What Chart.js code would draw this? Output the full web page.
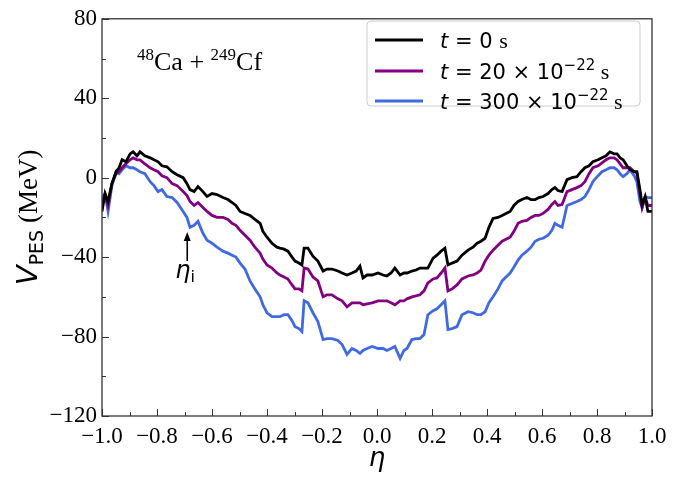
<!DOCTYPE html>
<html>
<head>
<meta charset="utf-8">
<script src="https://cdn.jsdelivr.net/npm/chart.js@4.4.1/dist/chart.umd.min.js"></script>
<style>
  html, body { margin: 0; padding: 0; background: #fff; }
  #wrap { width: 689px; height: 478px; }
</style>
</head>
<body>
<div id="wrap"><canvas id="pes" width="689" height="478"></canvas></div>
<script>
// eta grid and V_PES (MeV) for the three times
var etaValues = [
  -1.000, -0.989, -0.978, -0.964, -0.949, -0.938, -0.927, -0.913, -0.898, -0.887,
  -0.873, -0.862, -0.844, -0.825, -0.811, -0.796, -0.782, -0.764, -0.745, -0.727,
  -0.705, -0.691, -0.680, -0.665, -0.651, -0.633, -0.618, -0.600, -0.582, -0.560,
  -0.542, -0.527, -0.513, -0.498, -0.480, -0.462, -0.444, -0.425, -0.415, -0.400,
  -0.382, -0.364, -0.353, -0.338, -0.324, -0.309, -0.298, -0.284, -0.273, -0.265,
  -0.251, -0.233, -0.215, -0.196, -0.182, -0.164, -0.142, -0.127, -0.109, -0.091,
  -0.076, -0.062, -0.051, -0.036, -0.018, 0.004, 0.022, 0.036, 0.051, 0.065,
  0.084, 0.098, 0.109, 0.127, 0.142, 0.156, 0.171, 0.185, 0.204, 0.218,
  0.233, 0.247, 0.258, 0.273, 0.291, 0.309, 0.331, 0.349, 0.364, 0.378,
  0.393, 0.407, 0.422, 0.440, 0.455, 0.469, 0.484, 0.498, 0.513, 0.527,
  0.545, 0.560, 0.575, 0.589, 0.604, 0.622, 0.636, 0.647, 0.658, 0.673,
  0.691, 0.709, 0.727, 0.742, 0.756, 0.771, 0.785, 0.804, 0.818, 0.833,
  0.847, 0.862, 0.873, 0.884, 0.895, 0.909, 0.920, 0.935, 0.945, 0.956,
  0.964, 0.975, 0.985, 1.000
];

var vT0 = [
  -17, -8, -12, -3, 3, 5, 9, 8, 12, 13,
  11, 13, 11, 10, 9, 8, 6, 5.5, 3, 1.5,
  0, -3, -6, -7, -4.5, -7, -9.5, -8, -8.5, -10,
  -11, -12.5, -14, -17, -18, -19, -21, -23, -27, -30,
  -33, -35, -35.5, -36, -37, -40, -42, -43, -44, -35.5,
  -35.5, -39.5, -42, -47, -46, -46, -47, -48, -49, -48,
  -47, -44.5, -50.5, -49, -49, -48, -49, -49.5, -48, -45.5,
  -49, -48, -48, -47, -46.5, -45.5, -45.5, -45.5, -40.5, -39,
  -37, -35.5, -44, -43, -42, -39, -36.5, -35, -33, -32,
  -30.5, -25, -20.5, -20, -19, -18, -17, -14, -12, -11,
  -10, -11, -11, -10, -9.5, -8, -6, -5, -6.5, -7,
  -1, 0, 0.5, 3, 5, 6, 8, 9, 10, 11,
  13, 12, 12, 10, 9, 6, 4, 3, 3, -6,
  -13.5, -9.5, -17, -17
];

var vT20 = [
  -12, -9, -14, -3, 2, 3, 5, 7, 9, 10,
  9, 9, 7, 5, 4, 3, 1, 0, -3, -4,
  -7, -9, -12, -14, -12.5, -15, -17, -19, -20, -20,
  -21, -23, -24, -26.5, -29, -31.5, -35, -38, -41, -44,
  -45.5, -48, -49, -50, -51, -54, -56, -56, -57, -45.5,
  -46, -50, -52, -60, -59, -59, -61, -62, -65, -63,
  -63, -63, -64, -63.5, -63, -62, -62, -62, -63, -64,
  -62, -62, -61, -60, -59.5, -59, -57, -53, -51, -50.5,
  -48, -45.5, -57, -56, -54, -51, -49.5, -49, -48, -46.5,
  -42, -39, -36.5, -34, -32, -31, -30, -27, -23, -22,
  -21.5, -20, -19, -19, -18, -16, -13.5, -12, -14, -13.5,
  -7, -6, -5, -4, -2, 2, 5, 6, 7.5, 9,
  10, 10, 9, 7, 5, 5, 5, 3, 2.5, -8,
  -15, -10, -14, -14
];

var vT300 = [
  -10, -8, -17, -4, 3, 2, 4, 6, 5, 5,
  4, 3, 2, -2, -4, -7, -6, -9.5, -10, -12.5,
  -17, -20, -25, -24, -22, -28, -31.5, -33, -35, -37,
  -38, -39, -40, -43, -46, -52, -56, -60, -64, -68,
  -70, -70, -70, -69, -69, -72, -75, -76, -77.5, -62,
  -63, -68, -72.5, -81.5, -81, -81, -82, -84, -89, -86,
  -87, -88.5, -87, -86, -85, -86, -86, -87, -86, -85,
  -91, -87, -86, -81.5, -81, -81, -79, -69, -67, -66,
  -64, -62, -76.5, -76, -75, -69, -67.5, -68, -69, -69,
  -67.5, -63, -60, -56, -52, -50, -48, -45, -41.5, -39,
  -37, -35, -32, -31, -30.5, -29, -26.5, -23, -24, -25,
  -14, -13, -12, -11, -9.5, -6, -2, 1, 3, 4,
  5, 5, 4, 2, 0.5, 2, 4, 1, -2, -12,
  -15, -9.5, -10, -10
];

var seriesLabels = ["t = 0 s", "t = 20 × 10⁻²² s", "t = 300 × 10⁻²² s"];
var seriesColors = ["#000000", "#800080", "#4169e1"];

var SERIF = '"Liberation Serif", "Times New Roman", serif';
var SANS = '"DejaVu Sans", sans-serif';

function toPoints(ys) {
  return ys.map(function (y, i) { return { x: etaValues[i], y: y }; });
}

function fmtTick(v, digits) {
  if (Math.abs(v) < 1e-9) v = 0;
  var s = digits ? v.toFixed(digits) : String(Math.round(v));
  return s.replace("-", "\u2212");
}

function runsWidth(ctx, runs) {
  var w = 0;
  runs.forEach(function (r) {
    ctx.font = r[1];
    w += ctx.measureText(r[0]).width;
  });
  return w;
}

// draw a run of text pieces: [text, font, raise]
function drawRuns(ctx, x, y, runs) {
  ctx.textBaseline = "alphabetic";
  ctx.textAlign = "left";
  runs.forEach(function (r) {
    ctx.font = r[1];
    ctx.fillText(r[0], x, y - (r[2] || 0));
    x += ctx.measureText(r[0]).width;
  });
  return x;
}

var decorPlugin = {
  id: "decor",
  afterDraw: function (chart) {
    var ctx = chart.ctx;
    var a = chart.chartArea;
    var xs = chart.scales.x;
    var ys = chart.scales.y;
    ctx.save();

    // frame
    ctx.strokeStyle = "#333333";
    ctx.lineWidth = 1.3;
    ctx.strokeRect(a.left, a.top, a.right - a.left, a.bottom - a.top);

    // inward ticks, left and bottom
    ctx.lineWidth = 1;
    ctx.beginPath();
    for (var i = 0; i <= 20; i++) {
      var px = Math.round(xs.getPixelForValue(-1 + i * 0.1)) + 0.5;
      var len = i % 2 === 0 ? 7 : 4;
      ctx.moveTo(px, a.bottom);
      ctx.lineTo(px, a.bottom - len);
    }
    for (var j = 0; j <= 10; j++) {
      var py = Math.round(ys.getPixelForValue(-120 + j * 20)) + 0.5;
      var ln = j % 2 === 0 ? 7 : 4;
      ctx.moveTo(a.left, py);
      ctx.lineTo(a.left + ln, py);
    }
    ctx.stroke();

    ctx.fillStyle = "#000";

    // x title
    ctx.font = "italic 26px " + SANS;
    ctx.textAlign = "center";
    ctx.textBaseline = "alphabetic";
    ctx.fillText("\u03b7", (a.left + a.right) / 2, 466);

    // y title, centred on the plot area
    var yRuns = [
      ["V", "italic 29px " + SANS, 0],
      ["PES", "19px " + SANS, -6],
      [" (MeV)", "27px " + SERIF, 0]
    ];
    var yw = runsWidth(ctx, yRuns);
    ctx.save();
    ctx.translate(37, (a.top + a.bottom) / 2 + yw / 2);
    ctx.rotate(-Math.PI / 2);
    drawRuns(ctx, 0, 0, yRuns);
    ctx.restore();

    // reaction label
    drawRuns(ctx, 137, 70, [
      ["48", "17px " + SERIF, 10],
      ["Ca", "26px " + SERIF, 0],
      [" + ", "26px " + SERIF, 0],
      ["249", "17px " + SERIF, 10],
      ["Cf", "26px " + SERIF, 0]
    ]);

    // eta_i marker
    var ax = xs.getPixelForValue(-0.69);
    ctx.strokeStyle = "#000";
    ctx.lineWidth = 1.6;
    ctx.beginPath();
    ctx.moveTo(ax, 261);
    ctx.lineTo(ax, 238);
    ctx.stroke();
    ctx.beginPath();
    ctx.moveTo(ax, 232);
    ctx.lineTo(ax - 3.5, 241);
    ctx.lineTo(ax + 3.5, 241);
    ctx.closePath();
    ctx.fill();
    drawRuns(ctx, ax - 12, 278, [
      ["\u03b7", "italic 24px " + SANS, 0],
      ["i", "16px " + SANS, -4]
    ]);

    // legend
    var bx = 367, by = 21, bw = 273, bh = 85;
    ctx.beginPath();
    ctx.roundRect(bx, by, bw, bh, 4);
    ctx.fillStyle = "rgba(255,255,255,0.85)";
    ctx.fill();
    ctx.strokeStyle = "#cccccc";
    ctx.lineWidth = 1;
    ctx.stroke();

    var rows = [40, 71, 101];
    var texts = [
      [["t", "italic 21px " + SANS], [" = 0 ", "21px " + SANS], ["s", "22px " + SERIF]],
      [["t", "italic 21px " + SANS], [" = 20 \u00d7 10", "21px " + SANS], ["\u221222", "15px " + SANS, 9], [" s", "22px " + SERIF]],
      [["t", "italic 21px " + SANS], [" = 300 \u00d7 10", "21px " + SANS], ["\u221222", "15px " + SANS, 9], [" s", "22px " + SERIF]]
    ];
    rows.forEach(function (ry, k) {
      ctx.strokeStyle = seriesColors[k];
      ctx.lineWidth = 2.8;
      ctx.beginPath();
      ctx.moveTo(375, ry);
      ctx.lineTo(423, ry);
      ctx.stroke();
      ctx.fillStyle = "#000";
      drawRuns(ctx, 440, ry + 8, texts[k]);
    });

    ctx.restore();
  }
};

var datasets = [vT0, vT20, vT300].map(function (ys, k) {
  return {
    label: seriesLabels[k],
    data: toPoints(ys),
    borderColor: seriesColors[k],
    backgroundColor: seriesColors[k],
    borderWidth: 2.8,
    pointRadius: 0,
    tension: 0,
    fill: false
  };
});

new Chart(document.getElementById("pes").getContext("2d"), {
  type: "line",
  data: { datasets: datasets },
  plugins: [decorPlugin],
  options: {
    responsive: false,
    animation: false,
    devicePixelRatio: 1,
    layout: { padding: { left: 0, top: 11, right: 37, bottom: 0 } },
    plugins: {
      legend: { display: false },
      tooltip: { enabled: false }
    },
    scales: {
      x: {
        type: "linear",
        min: -1,
        max: 1,
        grid: { display: false, drawTicks: false },
        border: { display: false },
        ticks: {
          stepSize: 0.2,
          padding: 7,
          color: "#000",
          maxRotation: 0,
          autoSkip: false,
          font: { family: SERIF, size: 23 },
          callback: function (v) { return fmtTick(v, 1); }
        },
        afterFit: function (s) { s.height = 62; }
      },
      y: {
        min: -120,
        max: 80,
        grid: { display: false, drawTicks: false },
        border: { display: false },
        ticks: {
          stepSize: 40,
          padding: 5,
          color: "#000",
          font: { family: SERIF, size: 23 },
          callback: function (v) { return fmtTick(v, 0); }
        },
        afterFit: function (s) { s.width = 102; }
      }
    }
  }
});
</script>
</body>
</html>
